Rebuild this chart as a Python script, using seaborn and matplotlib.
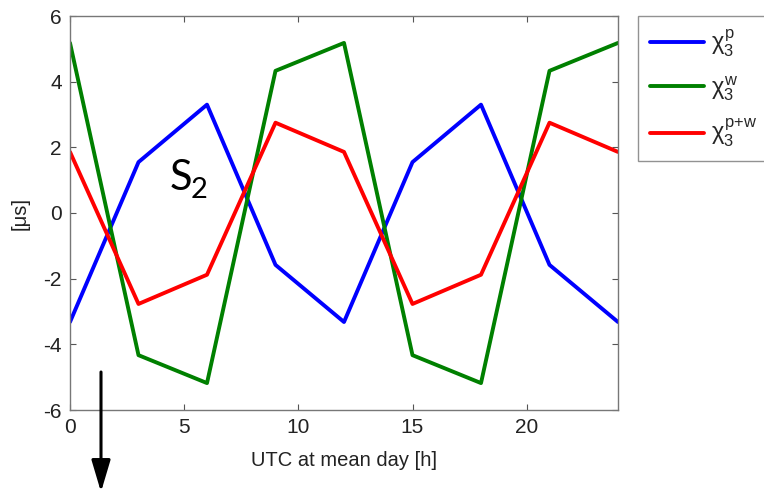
import numpy as np
import pandas as pd
import matplotlib
matplotlib.use("Agg")
import matplotlib.pyplot as plt
import seaborn as sns

# Diurnal S2 signal sampled every 3 hours of UTC
hours = [0, 3, 6, 9, 12, 15, 18, 21, 24]
chi_p = [-3.32, 1.55, 3.30, -1.58, -3.32, 1.55, 3.30, -1.58, -3.32]
chi_w = [5.18, -4.33, -5.18, 4.33, 5.18, -4.33, -5.18, 4.33, 5.18]
chi_pw = [1.86, -2.77, -1.88, 2.75, 1.86, -2.77, -1.88, 2.75, 1.86]

series_labels = [r"$\chi_3^{\mathrm{p}}$", r"$\chi_3^{\mathrm{w}}$", r"$\chi_3^{\mathrm{p{+}w}}$"]
series_colors = ["#0000ff", "#008000", "#ff0000"]
x_ticks = [0, 5, 10, 15, 20]
y_ticks = [-6, -4, -2, 0, 2, 4, 6]

sns.set_theme(style="ticks")
plt.rcParams["font.family"] = ["Liberation Sans", "DejaVu Sans"]
plt.rcParams["mathtext.fontset"] = "custom"
plt.rcParams["mathtext.rm"] = "Liberation Sans"
plt.rcParams["mathtext.it"] = "Liberation Sans"
plt.rcParams["axes.unicode_minus"] = False

df = pd.DataFrame({
    "hour": hours * 3,
    "value": chi_p + chi_w + chi_pw,
    "series": [series_labels[0]] * len(hours)
              + [series_labels[1]] * len(hours)
              + [series_labels[2]] * len(hours),
})

fig = plt.figure(figsize=(7.64, 4.93), dpi=100)
ax = fig.add_axes([70 / 764, 1 - 410 / 493, 548 / 764, 394 / 493])

sns.lineplot(data=df, x="hour", y="value", hue="series",
             palette=dict(zip(series_labels, series_colors)),
             linewidth=2.8, ax=ax, legend=False)

ax.set_xlim(0, 24)
ax.set_ylim(-6, 6)
ax.set_xticks(x_ticks)
ax.set_yticks(y_ticks)
ax.tick_params(direction="in", top=True, right=True, length=4,
               width=0.8, color="#555555", labelsize=15,
               labelcolor="#222222", pad=6)
for sp in ax.spines.values():
    sp.set_color("#777777")
    sp.set_linewidth(1.0)

ax.set_xlabel("UTC at mean day [h]", fontsize=14.5, color="#222222", labelpad=10)
ax.set_ylabel("[\u03bcs]", fontsize=14.5, color="#222222", labelpad=10)

# Tide constituent annotation
ax.text(4.38, 0.70, "S", fontsize=30, family="Lato", color="black",
        ha="left", va="baseline")
ax.text(5.28, 0.46, "2", fontsize=21, family="Lato", color="black",
        ha="left", va="baseline")

# Legend outside the axes on the right
handles = [plt.Line2D([], [], color=c, linewidth=2.8) for c in series_colors]
leg = fig.legend(handles, series_labels, loc="upper left",
                 bbox_to_anchor=(638 / 764, 1 - 16 / 493),
                 frameon=True, fancybox=False, fontsize=17,
                 handlelength=2.3, handletextpad=0.3, labelspacing=0.62,
                 borderpad=0.5, borderaxespad=0)
leg.get_frame().set_edgecolor("#777777")
leg.get_frame().set_linewidth(1.0)

# Downward arrow below the plot
fig.patches.append(matplotlib.patches.FancyArrowPatch(
    (101 / 764, 1 - 372 / 493), (101 / 764, 1 - 492 / 493),
    transform=fig.transFigure, arrowstyle="-|>,head_length=1.95,head_width=0.58",
    mutation_scale=10, shrinkA=0, shrinkB=0, color="black", linewidth=2.2))

fig.savefig("out.png", dpi=100)
